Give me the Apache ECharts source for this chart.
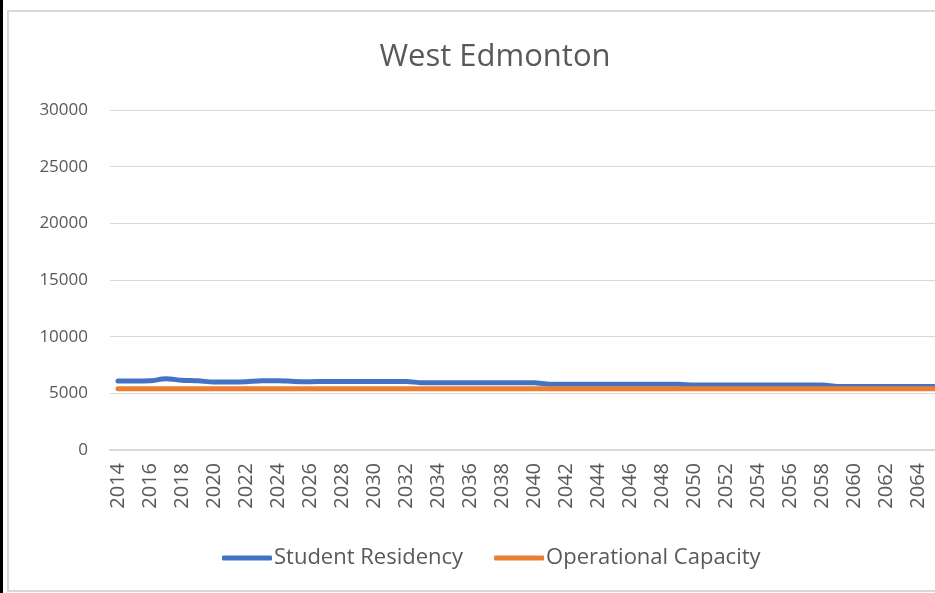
<!DOCTYPE html>
<html>
<head>
<meta charset="utf-8">
<title>West Edmonton</title>
<script src="https://cdn.jsdelivr.net/npm/echarts@6/dist/echarts.min.js"></script>
<style>
  html, body { margin: 0; padding: 0; background: #ffffff; }
  #chart { width: 935px; height: 593px; }
</style>
</head>
<body>
<div id="chart"></div>
<script>
// Years shown on the category axis
const years = [
  '2014','2015','2016','2017','2018','2019','2020','2021','2022','2023',
  '2024','2025','2026','2027','2028','2029','2030','2031','2032','2033',
  '2034','2035','2036','2037','2038','2039','2040','2041','2042','2043',
  '2044','2045','2046','2047','2048','2049','2050','2051','2052','2053',
  '2054','2055','2056','2057','2058','2059','2060','2061','2062','2063',
  '2064','2065'
];

// Projected student residency per year
const studentResidency = [
  6080, 6080, 6100, 6280, 6150, 6100, 6000, 6000, 6030, 6120,
  6120, 6050, 6030, 6040, 6040, 6040, 6040, 6040, 6040, 5940,
  5930, 5930, 5930, 5930, 5930, 5930, 5930, 5800, 5800, 5800,
  5800, 5800, 5800, 5800, 5800, 5800, 5730, 5730, 5730, 5730,
  5730, 5730, 5730, 5730, 5730, 5600, 5600, 5600, 5600, 5600,
  5600, 5600
];

// Operational capacity of schools in the area
const operationalCapacity = [
  5400, 5400, 5400, 5400, 5400, 5400, 5400, 5400, 5400, 5400,
  5400, 5400, 5400, 5400, 5400, 5400, 5400, 5400, 5400, 5400,
  5400, 5400, 5400, 5400, 5400, 5400, 5400, 5400, 5400, 5400,
  5400, 5400, 5400, 5400, 5400, 5400, 5400, 5400, 5400, 5400,
  5400, 5400, 5400, 5400, 5400, 5400, 5400, 5400, 5400, 5400,
  5400, 5400
];

// Value axis range
const yMin = 0;
const yMax = 30000;
const yStep = 5000;

const FONT = "'Open Sans', 'Noto Sans', sans-serif";
const TEXT = '#595959';
const GRID = '#d9d9d9';

const chart = echarts.init(document.getElementById('chart'), null, { renderer: 'canvas' });

chart.setOption({
  backgroundColor: '#ffffff',
  animation: false,
  graphic: [
    // outer frame of the chart area
    { type: 'rect', z: -10, shape: { x: 8, y: 11, width: 980, height: 580 },
      style: { fill: '#ffffff', stroke: GRID, lineWidth: 2 } },
    { type: 'rect', z: 10, shape: { x: 0, y: 0, width: 3, height: 593 },
      style: { fill: '#000000' } }
  ],
  title: {
    text: 'West Edmonton',
    left: 490,
    top: 37,
    textAlign: 'center',
    textStyle: { fontFamily: FONT, fontSize: 31, fontWeight: 'normal', color: TEXT }
  },
  legend: {
    left: 217,
    top: 542,
    itemWidth: 50,
    itemHeight: 5,
    itemGap: 31,
    icon: 'roundRect',
    textStyle: { fontFamily: FONT, fontSize: 22, color: TEXT, padding: [0, 0, 0, -3] },
    data: ['Student Residency', 'Operational Capacity']
  },
  grid: { left: 110, top: 110, width: 832, height: 340, containLabel: false, outerBoundsMode: 'none' },
  xAxis: {
    type: 'category',
    data: years,
    boundaryGap: true,
    axisLine: { show: true, lineStyle: { color: GRID, width: 2 } },
    axisTick: { show: false },
    axisLabel: {
      interval: 1,
      rotate: 90,
      margin: 13,
      fontFamily: FONT,
      fontSize: 20,
      color: TEXT
    },
    splitLine: { show: false }
  },
  yAxis: {
    type: 'value',
    min: yMin,
    max: yMax,
    interval: yStep,
    axisLine: { show: false },
    axisTick: { show: false },
    axisLabel: {
      margin: 22, fontFamily: FONT, fontSize: 17, color: TEXT,
      formatter: (v) => String(v)
    },
    splitLine: { show: true, lineStyle: { color: GRID, width: 1 } }
  },
  series: [
    {
      name: 'Student Residency',
      type: 'line',
      data: studentResidency,
      smooth: 0.3,
      showSymbol: false,
      symbol: 'none',
      color: '#4472C4',
      lineStyle: { width: 5, color: '#4472C4', cap: 'round', join: 'round' },
      z: 2
    },
    {
      name: 'Operational Capacity',
      type: 'line',
      data: operationalCapacity,
      smooth: 0.3,
      showSymbol: false,
      symbol: 'none',
      color: '#ED7D31',
      lineStyle: { width: 5, color: '#ED7D31', cap: 'round', join: 'round' },
      z: 3
    }
  ]
});
</script>
</body>
</html>
